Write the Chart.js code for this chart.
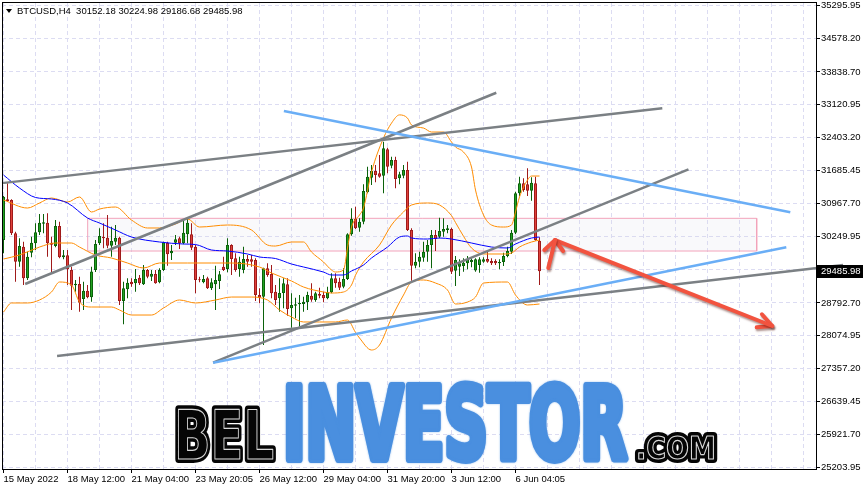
<!DOCTYPE html>
<html>
<head>
<meta charset="utf-8">
<script src="https://cdn.jsdelivr.net/npm/chart.js@4.4.0/dist/chart.umd.min.js"></script>
<style>
html, body { margin: 0; padding: 0; background: #fff; }
#wrap { position: relative; width: 866px; height: 491px; }
</style>
</head>
<body>
<div id="wrap"><canvas id="mainchart"></canvas></div>
<script>
// BTCUSD H4 candles, bar 0 is the first bar on the left
var opens = [30167,31056,31041,30314,29694,30021,29331,29890,30095,30336,
    30524,30546,30108,30036,30473,29790,29833,29512,29178,29207,
    28879,29060,28916,29512,30095,30240,30218,30043,30130,30218,
    28835,29091,29257,29222,29344,29200,29512,29366,29425,29244,
    29512,30108,29877,30108,30204,30095,30292,30292,30021,29309,
    29244,29331,29113,29200,29272,29585,29534,30058,29768,29534,
    29512,29752,29746,29731,28966,28929,29549,29425,29038,28894,
    29010,29200,28676,28733,28763,28770,28807,28951,28857,28988,
    28966,28894,29025,29331,29257,29148,29316,30292,30626,30436,
    30567,31209,31528,31674,31624,31572,32148,31790,31915,31515,
    31572,31696,30386,29606,29694,29781,29912,30058,30276,30240,
    30349,30386,30408,29497,29585,29600,29658,29687,29500,29621,
    29694,29752,29709,29709,29658,29687,29818,29912,30327,31187,
    31406,31384,31244,31406,30152.18];
var highs = [31128,31406,31056,30349,30204,30130,29912,30240,30532,30735,
    30735,30750,30240,30604,30567,29949,29949,29585,29294,29366,
    29257,29185,29585,30167,30423,30532,30713,30458,30495,30240,
    29257,29331,29331,29534,29403,29621,29534,29512,29512,29549,
    30130,30130,30058,30276,30240,30604,30641,30532,30058,29366,
    29403,29366,29331,29606,29490,29803,30204,30073,29877,29803,
    30021,29840,29840,29768,29113,29562,29658,29621,29185,29331,
    29331,29331,29003,28907,28966,28929,29038,29222,29038,29126,
    29038,29148,29440,29440,29344,29549,30314,30859,30895,30641,
    31384,31768,31805,31805,32024,32314,32183,31987,31987,31659,
    31805,31878,30423,29877,29912,30130,30167,30386,30386,30654,
    30641,30495,30436,29818,29746,29768,29818,29768,29768,29790,
    29790,29934,29768,29746,29746,29890,30021,30386,31222,31550,
    31515,31733,31537,31550,30224.98];
var lows = [29877,31004,30276,29257,29585,29185,29294,29790,29949,30276,
    30314,29803,29440,30008,29768,29746,29185,28639,29038,28602,
    28639,28894,28820,29469,30058,29986,29986,29803,30058,28748,
    28326,28894,29148,29038,29185,29185,29331,29272,29210,29222,
    29490,29606,29731,30058,29971,30073,30095,29949,29003,29244,
    29222,29097,29075,28639,29097,29490,29462,29403,29475,29366,
    29440,29585,29585,28835,28785,27874,29366,28894,28748,28602,
    28676,28514,28252,28457,28274,28602,28639,28820,28820,28894,
    28807,28872,29003,29126,29075,29113,29294,30261,30410,30349,
    30510,31187,31369,31428,31528,31187,31624,31733,31297,31384,
    31515,30364,29279,29549,29571,29694,29694,29549,29927,30204,
    30240,30314,29425,29163,29381,29475,29527,29571,29475,29453,
    29672,29672,29621,29621,29527,29600,29790,29862,30298,31128,
    31222,31128,31026,30152,29186.68];
var closes = [31113,31019,30314,29694,30036,29331,29803,30108,30336,30546,
    30555,30095,30065,30473,29790,29833,29527,29170,29213,28798,
    29060,28916,29478,30080,30255,30204,30043,30145,30218,28835,
    29113,29235,29200,29316,29222,29512,29366,29431,29222,29512,
    30117,29855,29927,30182,30095,30327,30546,30000,29294,29287,
    29316,29113,29244,29294,29418,29512,30058,29752,29512,29694,
    29752,29694,29694,28966,28907,29549,29403,29003,28857,29010,
    29222,28661,28748,28763,28791,28820,28966,28864,29003,28951,
    28894,29025,29331,29222,29126,29316,30292,30626,30423,30567,
    31237,31550,31674,31587,31550,32170,31768,31915,31500,31602,
    31696,30386,29606,29694,29803,29912,30058,30276,30189,30364,
    30408,30423,29475,29731,29658,29672,29746,29731,29746,29746,
    29746,29694,29658,29658,29687,29818,29927,30327,31187,31406,
    31259,31244,31419,30167,29485.98];

var xLabels = ['15 May 2022', '18 May 12:00', '21 May 04:00', '23 May 20:05', '26 May 12:00',
    '29 May 04:00', '31 May 20:00', '3 Jun 12:00', '6 Jun 04:05'];
var yTicks = [35295.95, 34578.20, 33838.70, 33120.95, 32403.20, 31685.45, 30967.70, 30249.95,
    29532.20, 28792.70, 28074.95, 27357.20, 26639.45, 25921.70, 25203.95];
var yTickLabels = ['35295.95', '34578.20', '33838.70', '33120.95', '32403.20', '31685.45', '30967.70', '30249.95',
    '', '28792.70', '28074.95', '27357.20', '26639.45', '25921.70', '25203.95'];

// indicators, [bar, price]
var maLine = [[0,31587],[4,31303],[8,31096],[12,31063],[16,30976],[21,30648],[24,30539],[28,30386],
    [32,30233],[39,30124],[45,30080],[48,30069],[52,29949],[56,29927],[61,29862],[64,29796],[68,29763],
    [72,29643],[75,29578],[80,29468],[82,29403],[85,29403],[87,29490],[90,29621],[92,29774],[96,30014],
    [99,30233],[101,30255],[102,30211],[106,30189],[109,30211],[112,30189],[117,30102],[122,30014],
    [126,29993],[128,30080],[132,30211],[134,30233]];
var bbUpper = [[0,31041],[6,30866],[9,30976],[12,31085],[16,30997],[19,31107],[22,30779],[24,30844],
    [28,30888],[32,30604],[36,30430],[39,30430],[43,30517],[46,30626],[49,30451],[56,30495],[62,30386],
    [66,30058],[68,30036],[72,30124],[75,30124],[77,29905],[80,29687],[82,29512],[83,29469],[85,29512],
    [86,29993],[87,30451],[89,30714],[90,30866],[92,31652],[95,32395],[97,32720],[99,32900],[101,32830],
    [102,32680],[105,32613],[107,32526],[110,32526],[112,32308],[113,32199],[115,32089],[117,31762],
    [118,31259],[120,30714],[122,30495],[125,30451],[127,30495],[128,30779],[129,31107],[131,31478],
    [132,31565],[134,31565]];
var bbMiddle = [[0,29752],[4,29840],[9,30014],[13,30102],[17,30102],[19,30014],[23,29840],[27,29774],
    [31,29665],[35,29556],[39,29665],[46,29665],[52,29665],[57,29665],[64,29578],[67,29447],[72,29272],
    [75,29141],[80,29032],[82,29010],[85,29032],[87,29185],[88,29400],[90,29687],[94,30058],[97,30495],
    [100,30779],[102,30932],[106,30976],[109,30932],[112,30700],[113,30550],[115,30250],[117,29993],
    [120,29862],[125,29862],[127,29884],[129,30014],[132,30124],[134,30167]];
var bbLower = [[0,28595],[2,28792],[6,28792],[9,28857],[12,29032],[14,29250],[17,29185],[19,28813],
    [22,28704],[27,28704],[29,28639],[32,28529],[37,28529],[40,28682],[44,28857],[48,28792],[53,28857],
    [57,28922],[62,28922],[66,28857],[69,28639],[72,28486],[75,28377],[79,28377],[83,28377],[86,28420],
    [88,28150],[89,28027],[92,27765],[94,27874],[97,28464],[100,28966],[102,29250],[105,29294],
    [108,29228],[111,29075],[113,28770],[116,28813],[118,28922],[120,29228],[126,29250],[128,28966],
    [131,28748],[134,28770]];

// drawn objects, [bar, price] end points
var grayLines = [
    [[-0.375, 31410], [164.7, 33044]],
    [[5.4, 29207], [123.2, 33384]],
    [[13.4, 27634], [209.9, 29622]],
    [[52.4, 27488], [171.25, 31711]]
];
var blueLines = [
    [[70.1, 32985], [196.7, 30772]],
    [[52.4, 27488], [195.7, 30008]]
];
var zoneBars = [21.05, 188.3];
var zonePrices = [29927, 30641];
var arrowShort = [[136.2, 29556], [137.9, 30167]];
var arrowShortHead = [[135.2, 29949], [137.9, 30167], [139.9, 29927]];
var arrowLong = [[137.9, 30167], [192.2, 28289]];
var arrowLongHead = [[188.3, 28261], [192.2, 28289], [189.6, 28545]];

var last = closes.length - 1;
var upFill = '#22a322', upEdge = '#0b620b', downFill = '#e0403a', downEdge = '#a01a1a';

function pts(arr) {
    return arr.map(function (p) { return {x: p[0], y: p[1]}; });
}
function lineDs(arr, color, width, order, extra) {
    var ds = {
        type: 'line', data: pts(arr), borderColor: color, borderWidth: width,
        pointRadius: 0, fill: false, tension: 0, order: order
    };
    for (var k in extra) ds[k] = extra[k];
    return ds;
}

var isUp = closes.map(function (c, i) { return c >= opens[i]; });
var datasets = [];

datasets.push(lineDs([[zoneBars[0], zonePrices[1]], [zoneBars[1], zonePrices[1]], [zoneBars[1], zonePrices[0]],
    [zoneBars[0], zonePrices[0]], [zoneBars[0], zonePrices[1]]], '#f3a3bb', 1, 20,
    {fill: 'shape', backgroundColor: 'rgba(215,215,225,0.15)'}));

datasets.push({
    type: 'bar', order: 12, grouped: false, barThickness: 1, inflateAmount: 0, borderWidth: 0,
    data: lows.map(function (l, i) {
        return {x: i, y: [Math.min(l, opens[i], closes[i]), Math.max(highs[i], opens[i], closes[i])]};
    }),
    backgroundColor: isUp.map(function (u) { return u ? upEdge : downEdge; })
});
datasets.push({
    type: 'bar', order: 11, grouped: false, barThickness: 3, inflateAmount: 0, minBarLength: 1,
    borderWidth: 1, borderSkipped: false,
    data: opens.map(function (o, i) { return {x: i, y: [o, closes[i]]}; }),
    backgroundColor: isUp.map(function (u) { return u ? upFill : downFill; }),
    borderColor: isUp.map(function (u) { return u ? upEdge : downEdge; })
});

var smooth = {cubicInterpolationMode: 'monotone'};
datasets.push(lineDs(bbUpper, '#ff8c00', 1, 9, smooth));
datasets.push(lineDs(bbMiddle, '#ff8c00', 1, 9, smooth));
datasets.push(lineDs(bbLower, '#ff8c00', 1, 9, smooth));
datasets.push(lineDs(maLine, '#0000ff', 1, 8, smooth));

grayLines.forEach(function (l) {
    datasets.push(lineDs(l, '#7b8084', 2.5, 5, {clip: false}));
});
blueLines.forEach(function (l) {
    datasets.push(lineDs(l, '#6aaef6', 2.5, 4, {clip: false}));
});

var arrowOpts = {borderCapStyle: 'round', borderJoinStyle: 'round', shadow: true};
[arrowShort, arrowShortHead, arrowLong, arrowLongHead].forEach(function (a) {
    datasets.push(lineDs(a, '#f2533f', 4, 1, arrowOpts));
});

var shadowPlugin = {
    id: 'shadow',
    beforeDatasetDraw: function (chart, args) {
        if (!chart.data.datasets[args.index].shadow) return;
        var ctx = chart.ctx;
        ctx.save();
        ctx.shadowColor = 'rgba(80,20,10,0.45)';
        ctx.shadowBlur = 2;
        ctx.shadowOffsetX = 1;
        ctx.shadowOffsetY = 2;
    },
    afterDatasetDraw: function (chart, args) {
        if (chart.data.datasets[args.index].shadow) chart.ctx.restore();
    }
};

function drawWord(ctx, text, left, right, base, capH, kind) {
    var size = capH / 0.73;
    ctx.save();
    ctx.font = 'bold ' + size + 'px "DejaVu Sans Condensed", "DejaVu Sans", sans-serif';
    ctx.textBaseline = 'alphabetic';
    ctx.textAlign = 'left';
    ctx.lineJoin = 'round';
    var w = ctx.measureText(text).width;
    ctx.translate(left, base);
    ctx.scale((right - left) / w, 1);
    if (kind === 'blue') {
        ctx.shadowColor = 'rgba(74,143,223,0.6)';
        ctx.shadowBlur = 2;
        ctx.fillStyle = '#4a8fdf';
        ctx.strokeStyle = '#4a8fdf';
        ctx.lineWidth = 8;
        ctx.strokeText(text, 0, 0);
        ctx.fillText(text, 0, 0);
    } else {
        ctx.fillStyle = '#050505';
        ctx.strokeStyle = '#050505';
        ctx.lineWidth = 8;
        ctx.strokeText(text, 0, 0);
        ctx.fillText(text, 0, 0);
        ctx.strokeStyle = '#d8d8d8';
        ctx.lineWidth = 1.1;
        ctx.strokeText(text, 0, 0);
    }
    ctx.restore();
}

var watermarkPlugin = {
    id: 'watermark',
    beforeDatasetsDraw: function (chart) {
        var ctx = chart.ctx;
        drawWord(ctx, 'BEL', 174, 274, 459, 50, 'black');
        drawWord(ctx, 'INVESTOR', 283, 627, 459, 73, 'blue');
        drawWord(ctx, '.COM', 636, 716, 459, 23, 'black');
    }
};

var framePlugin = {
    id: 'frame',
    afterDraw: function (chart) {
        var ctx = chart.ctx, a = chart.chartArea;
        ctx.save();
        ctx.strokeStyle = '#000';
        ctx.lineWidth = 1;
        ctx.strokeRect(a.left + 0.5, a.top - 0.5, a.right - a.left, a.bottom - a.top + 1);

        // symbol header
        ctx.fillStyle = '#000';
        ctx.beginPath();
        ctx.moveTo(6, 9); ctx.lineTo(12, 9); ctx.lineTo(9, 13); ctx.closePath();
        ctx.fill();
        ctx.font = '9.5px "Liberation Sans", Arial, sans-serif';
        ctx.textBaseline = 'alphabetic';
        ctx.fillText('BTCUSD,H4  ' + [opens[last], highs[last], lows[last], closes[last]]
            .map(function (v) { return v.toFixed(2); }).join(' '), 17, 14);

        // last price marker
        var y = Math.round(chart.scales.y.getPixelForValue(closes[last]));
        ctx.fillStyle = '#000';
        ctx.fillRect(a.right + 1, y - 6, 46, 13);
        ctx.fillStyle = '#fff';
        ctx.textBaseline = 'middle';
        ctx.fillText(closes[last].toFixed(2), a.right + 5, y + 0.5);
        ctx.restore();
    }
};

var gridColor = '#dcdcf2';
var tickFont = {family: '"Liberation Sans", Arial, sans-serif', size: 9.5};

var chartElement = document.getElementById('mainchart');
var chart = new Chart(chartElement.getContext('2d'), {
    type: 'bar',
    data: {datasets: datasets},
    options: {
        responsive: true,
        maintainAspectRatio: false,
        devicePixelRatio: 1,
        animation: false,
        events: [],
        layout: {padding: {left: 2, top: 3, right: 0, bottom: 0}},
        plugins: {legend: {display: false}, tooltip: {enabled: false}},
        scales: {
            x: {
                type: 'linear', min: -0.375, max: 203.125, offset: false,
                grid: {
                    offset: false, color: gridColor, lineWidth: 1, drawTicks: true, tickLength: 4,
                    tickColor: function (c) {
                        var v = c.tick ? c.tick.value : -1;
                        return (v % 16 === 0 && v / 16 < xLabels.length) ? '#000' : 'rgba(0,0,0,0)';
                    }
                },
                border: {display: false, dash: [4, 3]},
                afterBuildTicks: function (scale) {
                    var t = [];
                    for (var v = 0; v <= scale.max; v += 8) t.push({value: v});
                    scale.ticks = t;
                },
                afterFit: function (scale) {
                    scale.height = 22;
                    scale.paddingLeft = 0;
                    scale.paddingRight = 0;
                },
                ticks: {
                    autoSkip: false, maxRotation: 0, minRotation: 0, align: 'start', padding: 1,
                    color: '#000', font: tickFont,
                    callback: function (value) {
                        if (value % 16 !== 0) return '';
                        return xLabels[value / 16] || '';
                    }
                }
            },
            y: {
                type: 'linear', position: 'right', min: 25166, max: 35344, bounds: 'data',
                beginAtZero: false,
                grid: {color: gridColor, lineWidth: 1, drawTicks: true, tickLength: 4, tickColor: '#000'},
                border: {display: false, dash: [4, 3]},
                afterBuildTicks: function (scale) {
                    scale.ticks = yTicks.map(function (v) { return {value: v}; });
                },
                afterFit: function (scale) {
                    scale.width = 50;
                    scale.paddingTop = 0;
                    scale.paddingBottom = 0;
                },
                ticks: {
                    padding: 1, color: '#000', font: tickFont,
                    callback: function (value, index) { return yTickLabels[index]; }
                }
            }
        }
    },
    plugins: [shadowPlugin, watermarkPlugin, framePlugin]
});
</script>
</body>
</html>
